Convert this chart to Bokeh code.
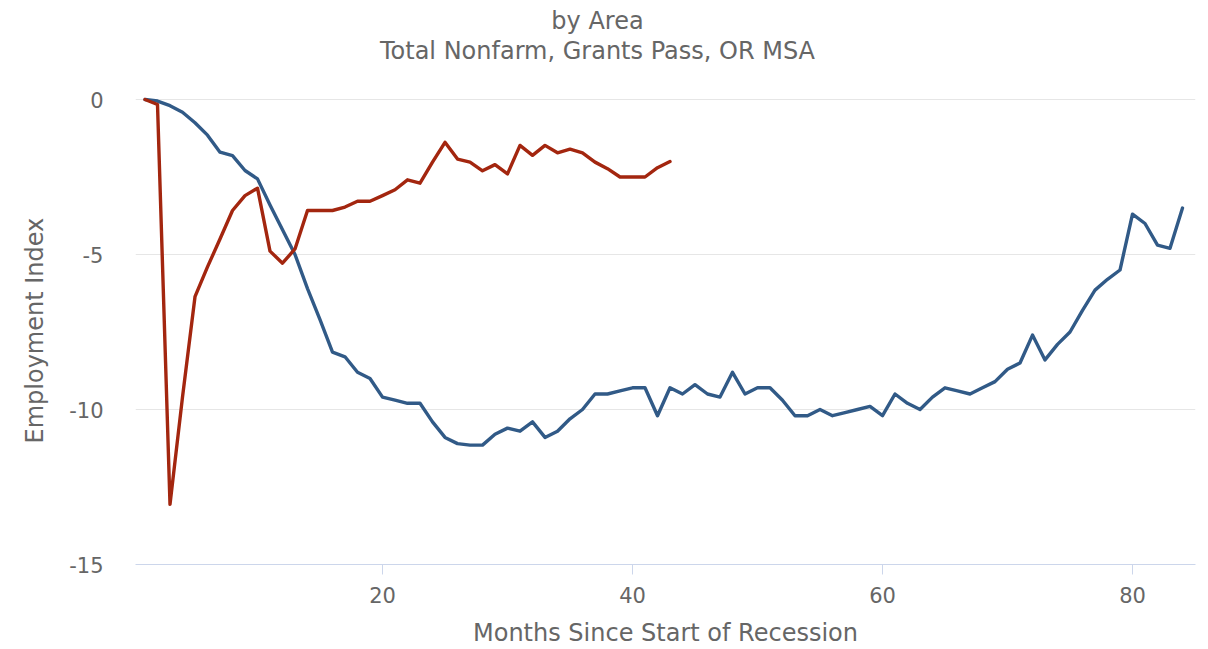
from bokeh.plotting import figure
from bokeh.models import Range1d, FixedTicker, Label, Title, ColumnDataSource
from bokeh.embed import file_html
from bokeh.resources import INLINE

# ---- data ----
months_blue = list(range(1, 85))
blue_values = [
    0, -0.05, -0.2, -0.41, -0.75, -1.15, -1.70, -1.81, -2.29, -2.56,
    -3.4, -4.2, -5.0, -6.1, -7.1, -8.15, -8.3, -8.8, -9.0, -9.6,
    -9.7, -9.8, -9.8, -10.4, -10.9, -11.1, -11.15, -11.15, -10.8, -10.6,
    -10.7, -10.4, -10.9, -10.7, -10.3, -10.0, -9.5, -9.5, -9.4, -9.3,
    -9.3, -10.2, -9.3, -9.5, -9.2, -9.5, -9.6, -8.8, -9.5, -9.3,
    -9.3, -9.7, -10.2, -10.2, -10.0, -10.2, -10.1, -10.0, -9.9, -10.2,
    -9.5, -9.8, -10.0, -9.6, -9.3, -9.4, -9.5, -9.3, -9.1, -8.7,
    -8.5, -7.6, -8.4, -7.9, -7.5, -6.8, -6.15, -5.8, -5.5, -3.7,
    -4.0, -4.7, -4.8, -3.5,
]
months_red = list(range(1, 44))
red_values = [
    0, -0.16, -13.06, -9.6, -6.36, -5.4, -4.5, -3.58, -3.1, -2.86,
    -4.89, -5.28, -4.82, -3.58, -3.58, -3.58, -3.47, -3.28, -3.28, -3.10,
    -2.91, -2.59, -2.7, -2.02, -1.38, -1.92, -2.02, -2.3, -2.1, -2.4,
    -1.48, -1.8, -1.48, -1.72, -1.6, -1.72, -2.02, -2.23, -2.5, -2.5,
    -2.5, -2.2, -2.0,
]
x_ticks = [20, 40, 60, 80]
y_ticks = [-15, -10, -5, 0]
y_tick_labels = {-15: "-15", -10: "-10", -5: "-5", 0: "0"}
title_line1 = "by Area"
title_line2 = "Total Nonfarm, Grants Pass, OR MSA"
x_label = "Months Since Start of Recession"
y_label = "Employment Index"

FONT = "DejaVu Sans"
GRAY = "#666666"

# frame spans the full height above the x axis so the titles can sit inside it;
# the y range is chosen so 0 lands where the reference's top gridline is.
p = figure(
    width=1200, height=649,
    output_backend="svg", toolbar_location=None, title=None,
    x_range=Range1d(0.24, 85.04), y_range=Range1d(-15, 3.194),
    min_border_left=135, min_border_right=5,
    min_border_top=0, min_border_bottom=80,
)
p.outline_line_color = None
p.background_fill_color = "white"
p.border_fill_color = "white"

# titles (screen units relative to the plot frame)
for txt, yy in ((title_line1, 544), (title_line2, 514)):
    p.add_layout(Label(x=462, y=yy, x_units="screen", y_units="screen",
                       text=txt, text_align="center", text_baseline="middle",
                       text_font=FONT, text_font_size="24px",
                       text_color=GRAY))

# grids
p.xgrid.visible = False
p.ygrid.ticker = FixedTicker(ticks=y_ticks)
p.ygrid.grid_line_color = "#e6e6e6"
p.ygrid.grid_line_width = 1

# x axis
p.xaxis.ticker = FixedTicker(ticks=x_ticks)
p.xaxis.axis_line_color = "#ccd6eb"
p.xaxis.major_tick_line_color = "#ccd6eb"
p.xaxis.major_tick_out = 10
p.xaxis.major_tick_in = 0
p.xaxis.minor_tick_line_color = None
p.xaxis.major_label_standoff = 12
p.xaxis.major_label_text_font = FONT
p.xaxis.major_label_text_font_size = "21px"
p.xaxis.major_label_text_color = GRAY
p.xaxis.axis_label = x_label
p.xaxis.axis_label_text_font = FONT
p.xaxis.axis_label_text_font_size = "24px"
p.xaxis.axis_label_text_font_style = "normal"
p.xaxis.axis_label_text_color = GRAY
p.xaxis.axis_label_standoff = 13

# y axis
p.yaxis.ticker = FixedTicker(ticks=y_ticks)
p.yaxis.bounds = (-15, 0)
p.yaxis.major_label_overrides = y_tick_labels
p.yaxis.axis_line_color = None
p.yaxis.major_tick_line_color = None
p.yaxis.minor_tick_line_color = None
p.yaxis.major_tick_out = 0
p.yaxis.major_tick_in = 0
p.yaxis.major_label_standoff = 32
p.yaxis.major_label_text_font = FONT
p.yaxis.major_label_text_font_size = "21px"
p.yaxis.major_label_text_color = GRAY

# y-axis title, centred on the -15..0 span (not on the taller frame)
p.add_layout(Title(text=y_label, align="left", offset=121, standoff=35,
                   text_font=FONT, text_font_size="24px",
                   text_font_style="normal", text_color=GRAY), "left")

blue_src = ColumnDataSource(dict(x=months_blue, y=blue_values))
red_src = ColumnDataSource(dict(x=months_red, y=red_values))
p.line("x", "y", source=blue_src, line_color="#315a87", line_width=3.4,
       line_join="round", line_cap="round")
p.line("x", "y", source=red_src, line_color="#a3260f", line_width=3.4,
       line_join="round", line_cap="round")

open("out.html", "w").write(file_html(p, INLINE))
